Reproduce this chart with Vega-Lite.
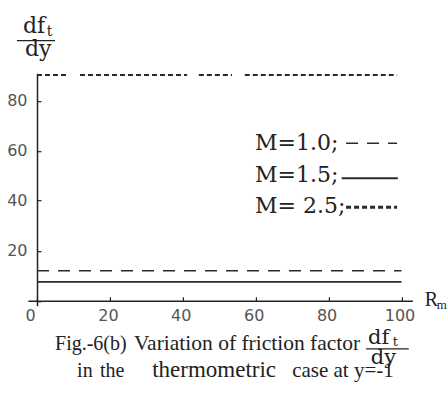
{
  "$schema": "https://vega.github.io/schema/vega-lite/v6.json",
  "width": 384.5,
  "height": 232.5,
  "autosize": {"type": "none"},
  "padding": {"left": 27.9, "top": 73.2, "right": 35.6, "bottom": 90.3},
  "background": "white",
  "config": {"view": {"stroke": null}},
  "layer": [
    {
      "data": {"values": [
        {"M": "1.0", "seg": "a", "Rm": 0, "v": 12},
        {"M": "1.0", "seg": "a", "Rm": 100, "v": 12},
        {"M": "1.5", "seg": "a", "Rm": 0, "v": 7.5},
        {"M": "1.5", "seg": "a", "Rm": 100, "v": 7.5},
        {"M": "2.5", "seg": "a", "Rm": 0, "v": 90.3},
        {"M": "2.5", "seg": "a", "Rm": 8.2, "v": 90.3},
        {"M": "2.5", "seg": "b", "Rm": 11.8, "v": 90.3},
        {"M": "2.5", "seg": "b", "Rm": 41.2, "v": 90.3},
        {"M": "2.5", "seg": "c", "Rm": 44.4, "v": 90.3},
        {"M": "2.5", "seg": "c", "Rm": 53.5, "v": 90.3},
        {"M": "2.5", "seg": "d", "Rm": 57, "v": 90.3},
        {"M": "2.5", "seg": "d", "Rm": 98.8, "v": 90.3}
      ]},
      "mark": {"type": "line", "color": "#2a2a2a"},
      "encoding": {
        "x": {
          "field": "Rm", "type": "quantitative",
          "scale": {"domain": [-2.5, 103], "nice": false, "zero": false},
          "axis": {
            "title": null, "grid": false,
            "values": [0,5,10,15,20,25,30,35,40,45,50,55,60,65,70,75,80,85,90,95,100],
            "labelExpr": "datum.value % 20 === 0 ? datum.label : ''",
            "offset": -5,
            "domainColor": "#222", "domainWidth": 1.5,
            "tickColor": "#222", "tickWidth": 1.2,
            "tickSize": -4,
            "labelOffset": {"condition": {"test": "datum.value === 0", "value": -7}, "value": -2},
            "labelFont": "DejaVu Sans", "labelFontSize": 16, "labelColor": "#555",
            "labelPadding": 11, "labelOverlap": false, "labelFlush": false
          }
        },
        "y": {
          "field": "v", "type": "quantitative",
          "scale": {"domain": [-2, 91], "nice": false, "zero": false},
          "axis": {
            "title": null, "grid": false,
            "values": [0,5,10,15,20,25,30,35,40,45,50,55,60,65,70,75,80,85,90],
            "labelExpr": "datum.value % 20 === 0 && datum.value > 0 ? datum.label : ''",
            "offset": -9.1,
            "domainColor": "#222", "domainWidth": 1.5,
            "tickColor": "#222", "tickWidth": 1.2,
            "tickSize": -4,
            "labelFont": "DejaVu Sans", "labelFontSize": 16, "labelColor": "#555",
            "labelPadding": 14, "labelOverlap": false
          }
        },
        "strokeDash": {"field": "M", "type": "nominal", "scale": {"domain": ["1.0", "1.5", "2.5"], "range": [[12, 9], [1, 0], [5, 3]]}, "legend": null},
        "strokeWidth": {"field": "M", "type": "ordinal", "scale": {"domain": ["1.0", "1.5", "2.5"], "range": [1.5, 2, 3]}, "legend": null},
        "detail": {"field": "seg"}
      }
    },
    {
      "data": {"values": [{}]},
      "mark": {"type": "text", "align": "left", "baseline": "alphabetic", "font": "DejaVu Serif", "fontSize": 22, "color": "#222"},
      "encoding": {"x": {"datum": 59.8}, "y": {"datum": 60.3}, "text": {"value": "M=1.0;"}}
    },
    {
      "data": {"values": [{}]},
      "mark": {"type": "text", "align": "left", "baseline": "alphabetic", "font": "DejaVu Serif", "fontSize": 22, "color": "#222"},
      "encoding": {"x": {"datum": 59.8}, "y": {"datum": 47.6}, "text": {"value": "M=1.5;"}}
    },
    {
      "data": {"values": [{}]},
      "mark": {"type": "text", "align": "left", "baseline": "alphabetic", "font": "DejaVu Serif", "fontSize": 22, "color": "#222"},
      "encoding": {"x": {"datum": 59.8}, "y": {"datum": 35.1}, "text": {"value": "M= 2.5;"}}
    },
    {
      "data": {"values": [{}]},
      "mark": {"type": "rule", "strokeDash": [12, 9], "strokeWidth": 1.5, "color": "#2a2a2a"},
      "encoding": {"x": {"datum": 84.8}, "x2": {"datum": 98.8}, "y": {"datum": 63}}
    },
    {
      "data": {"values": [{}]},
      "mark": {"type": "rule", "strokeWidth": 2, "color": "#2a2a2a"},
      "encoding": {"x": {"datum": 83.6}, "x2": {"datum": 99}, "y": {"datum": 49}}
    },
    {
      "data": {"values": [{}]},
      "mark": {"type": "rule", "strokeDash": [5, 3], "strokeWidth": 3, "color": "#2a2a2a"},
      "encoding": {"x": {"datum": 84.8}, "x2": {"datum": 98.8}, "y": {"datum": 37.4}}
    },
    {
      "data": {"values": [{}]},
      "mark": {"type": "text", "align": "left", "baseline": "alphabetic", "font": "DejaVu Serif", "fontSize": 22, "color": "#222"},
      "encoding": {"x": {"datum": -3.84}, "y": {"datum": 107.1}, "text": {"value": "df"}}
    },
    {
      "data": {"values": [{}]},
      "mark": {"type": "text", "align": "left", "baseline": "alphabetic", "font": "DejaVu Serif", "fontSize": 14, "color": "#222"},
      "encoding": {"x": {"datum": 2.7}, "y": {"datum": 106}, "text": {"value": "t"}}
    },
    {
      "data": {"values": [{}]},
      "mark": {"type": "rule", "strokeWidth": 1.3, "color": "#222"},
      "encoding": {"x": {"datum": -5.49}, "x2": {"datum": 4.94}, "y": {"datum": 104}}
    },
    {
      "data": {"values": [{}]},
      "mark": {"type": "text", "align": "left", "baseline": "alphabetic", "font": "DejaVu Serif", "fontSize": 22, "color": "#222"},
      "encoding": {"x": {"datum": -3.3}, "y": {"datum": 97.9}, "text": {"value": "dy"}}
    },
    {
      "data": {"values": [{}]},
      "mark": {"type": "text", "align": "left", "baseline": "alphabetic", "font": "Liberation Serif", "fontSize": 20, "color": "#222"},
      "encoding": {"x": {"datum": 106.4}, "y": {"datum": -2.3}, "text": {"value": "R"}}
    },
    {
      "data": {"values": [{}]},
      "mark": {"type": "text", "align": "left", "baseline": "alphabetic", "font": "Liberation Serif", "fontSize": 13, "color": "#222"},
      "encoding": {"x": {"datum": 109.7}, "y": {"datum": -3.3}, "text": {"value": "m"}}
    },
    {
      "data": {"values": [{}]},
      "mark": {"type": "text", "align": "left", "baseline": "alphabetic", "font": "Liberation Serif", "fontSize": 20, "color": "#222"},
      "encoding": {"x": {"datum": 4.94}, "y": {"datum": -19.7}, "text": {"value": "Fig.-6(b)"}}
    },
    {
      "data": {"values": [{}]},
      "mark": {"type": "text", "align": "left", "baseline": "alphabetic", "font": "Liberation Serif", "fontSize": 21.5, "color": "#222"},
      "encoding": {"x": {"datum": 26.6}, "y": {"datum": -19.7}, "text": {"value": "Variation of friction factor"}}
    },
    {
      "data": {"values": [{}]},
      "mark": {"type": "text", "align": "left", "baseline": "alphabetic", "font": "DejaVu Serif", "fontSize": 21, "color": "#222"},
      "encoding": {"x": {"datum": 90.8}, "y": {"datum": -17.3}, "text": {"value": "df"}}
    },
    {
      "data": {"values": [{}]},
      "mark": {"type": "text", "align": "left", "baseline": "alphabetic", "font": "DejaVu Serif", "fontSize": 13, "color": "#222"},
      "encoding": {"x": {"datum": 97.6}, "y": {"datum": -18.3}, "text": {"value": "t"}}
    },
    {
      "data": {"values": [{}]},
      "mark": {"type": "rule", "strokeWidth": 1.3, "color": "#222"},
      "encoding": {"x": {"datum": 90.3}, "x2": {"datum": 102}, "y": {"datum": -19.3}}
    },
    {
      "data": {"values": [{}]},
      "mark": {"type": "text", "align": "left", "baseline": "alphabetic", "font": "DejaVu Serif", "fontSize": 21, "color": "#222"},
      "encoding": {"x": {"datum": 91.6}, "y": {"datum": -25.3}, "text": {"value": "dy"}}
    },
    {
      "data": {"values": [{}]},
      "mark": {"type": "text", "align": "left", "baseline": "alphabetic", "font": "Liberation Serif", "fontSize": 20, "color": "#222"},
      "encoding": {"x": {"datum": 11}, "y": {"datum": -30.5}, "text": {"value": "in"}}
    },
    {
      "data": {"values": [{}]},
      "mark": {"type": "text", "align": "left", "baseline": "alphabetic", "font": "Liberation Serif", "fontSize": 20, "color": "#222"},
      "encoding": {"x": {"datum": 17.3}, "y": {"datum": -30.5}, "text": {"value": "the"}}
    },
    {
      "data": {"values": [{}]},
      "mark": {"type": "text", "align": "left", "baseline": "alphabetic", "font": "Liberation Serif", "fontSize": 23, "color": "#222"},
      "encoding": {"x": {"datum": 31.6}, "y": {"datum": -30.5}, "text": {"value": "thermometric"}}
    },
    {
      "data": {"values": [{}]},
      "mark": {"type": "text", "align": "left", "baseline": "alphabetic", "font": "Liberation Serif", "fontSize": 21, "color": "#222"},
      "encoding": {"x": {"datum": 70}, "y": {"datum": -30.5}, "text": {"value": "case at y=-1"}}
    }
  ]
}
